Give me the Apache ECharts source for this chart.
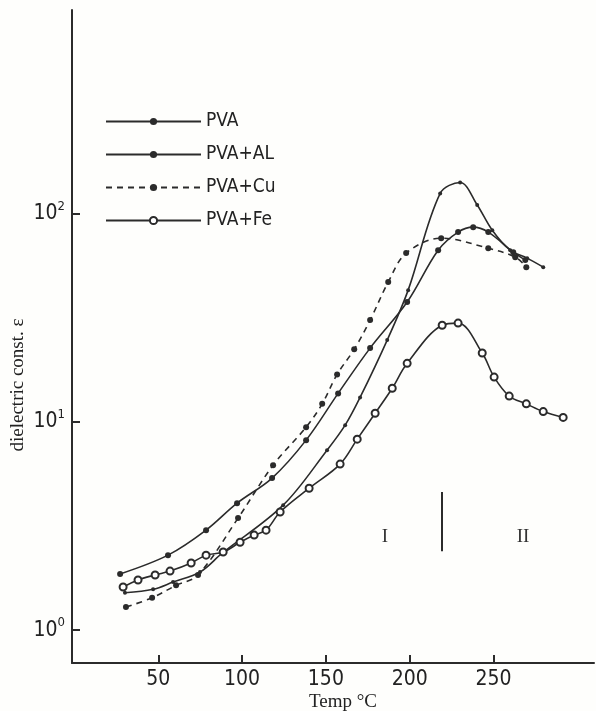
<!DOCTYPE html>
<html>
<head>
<meta charset="utf-8">
<script src="https://cdn.jsdelivr.net/npm/echarts@6/dist/echarts.min.js"></script>
<style>
  html, body { margin: 0; padding: 0; background: #fefefc; }
  #main { width: 596px; height: 711px; }
</style>
</head>
<body>
<div id="main"></div>
<script>
// values (temperature in °C, dielectric constant)
var pvaT = [27.2, 55.8, 78.5, 97.0, 117.9, 138.2, 157.3, 176.4, 198.5, 217.0, 228.9, 237.9, 246.9, 261.8, 269.0];
var pvaE = [1.86, 2.29, 3.02, 4.07, 5.37, 8.17, 13.7, 22.6, 37.6, 66.7, 81.5, 86.1, 81.5, 65.3, 59.8];

var alT = [30.1, 46.9, 58.8, 74.9, 88.1, 124.5, 150.7, 161.5, 170.4, 186.6, 199.1, 218.2, 230.1, 240.3, 249.3, 260.0, 270.1, 279.7];
var alE = [1.51, 1.57, 1.70, 1.90, 2.34, 3.98, 7.31, 9.64, 13.1, 24.7, 42.9, 125, 141, 110, 83.2, 66.7, 61.1, 55.3];

var cuT = [30.7, 46.3, 60.6, 73.7, 97.6, 118.5, 138.2, 147.8, 156.7, 166.9, 176.4, 187.2, 197.9, 218.8, 246.9, 263.0, 269.6];
var cuE = [1.29, 1.43, 1.64, 1.84, 3.45, 6.19, 9.43, 12.2, 16.9, 22.3, 30.8, 46.9, 64.6, 76.2, 68.2, 61.8, 55.3];

var feT = [29.0, 37.9, 48.1, 57.0, 69.6, 78.5, 88.7, 98.8, 107.2, 114.3, 122.7, 140.0, 158.5, 168.7, 179.4, 189.6, 198.5, 219.4, 228.9, 243.3, 250.4, 259.4, 269.6, 279.7, 291.6];
var feE = [1.61, 1.74, 1.84, 1.92, 2.10, 2.29, 2.37, 2.64, 2.86, 3.02, 3.69, 4.8, 6.27, 8.26, 11.0, 14.5, 19.1, 29.1, 29.8, 21.4, 16.4, 13.3, 12.2, 11.2, 10.5];

var xTicks = [50, 100, 150, 200, 250];
var yTicks = [1, 10, 100];
var seriesNames = ['PVA', 'PVA+AL', 'PVA+Cu', 'PVA+Fe'];

// boundary between region I and II
var boundaryT = 219.4;
var boundaryE = [2.39, 4.6];

function pairs(xs, ys) {
    return xs.map(function (x, i) { return [x, ys[i]]; });
}

var ink = '#2b2b2b';
var narrow = '"Liberation Sans Narrow", "DejaVu Sans Condensed", sans-serif';
var serif = '"Liberation Serif", "DejaVu Serif", serif';

var chart = echarts.init(document.getElementById('main'));

var option = {
    backgroundColor: '#fefefc',
    animation: false,
    grid: {
        left: 72,
        right: 2,
        top: 10,
        bottom: 48,
        outerBoundsMode: 'none'
    },
    legend: {
        data: seriesNames,
        orient: 'vertical',
        left: 100,
        top: 107,
        itemWidth: 95,
        itemHeight: 9,
        itemGap: 14,
        textStyle: { fontSize: 19, color: '#222', fontFamily: narrow }
    },
    xAxis: {
        type: 'value',
        min: -1.5,
        max: 310,
        splitLine: { show: false },
        axisLine: { onZero: false, lineStyle: { color: ink, width: 2 } },
        axisTick: { inside: true, length: 8, customValues: xTicks, lineStyle: { color: ink, width: 2 } },
        axisLabel: { customValues: xTicks, fontSize: 21, color: '#222', margin: 6, fontFamily: narrow }
    },
    yAxis: {
        type: 'log',
        logBase: 10,
        min: 0.695,
        max: 950,
        splitLine: { show: false },
        axisLine: { onZero: false, lineStyle: { color: ink, width: 2 } },
        axisTick: { inside: true, length: 8, customValues: yTicks, lineStyle: { color: ink, width: 2 } },
        axisLabel: {
            customValues: yTicks,
            margin: 7,
            formatter: function (v) {
                return '{b|10}{s|' + Math.round(Math.log10(v)) + '}';
            },
            rich: {
                b: { fontSize: 21, color: '#222', fontFamily: narrow },
                s: { fontSize: 13, color: '#222', fontFamily: narrow, padding: [0, 0, 14, 0] }
            }
        }
    },
    series: [{
        name: 'PVA',
        type: 'line',
        smooth: 0.35,
        data: pairs(pvaT, pvaE),
        symbol: 'circle',
        symbolSize: 6,
        itemStyle: { color: ink },
        lineStyle: { color: ink, width: 1.6 },
        markLine: {
            silent: true,
            symbol: 'none',
            label: { show: false },
            lineStyle: { color: ink, width: 2, type: 'solid' },
            data: [[{ coord: [boundaryT, boundaryE[0]] }, { coord: [boundaryT, boundaryE[1]] }]]
        }
    }, {
        name: 'PVA+AL',
        type: 'line',
        smooth: 0.35,
        data: pairs(alT, alE),
        symbol: 'circle',
        symbolSize: 4,
        itemStyle: { color: ink },
        lineStyle: { color: ink, width: 1.6 }
    }, {
        name: 'PVA+Cu',
        type: 'line',
        smooth: 0.35,
        data: pairs(cuT, cuE),
        symbol: 'circle',
        symbolSize: 6,
        itemStyle: { color: ink },
        lineStyle: { color: ink, width: 1.6, type: [6, 5] }
    }, {
        name: 'PVA+Fe',
        type: 'line',
        smooth: 0.35,
        data: pairs(feT, feE),
        symbol: 'emptyCircle',
        symbolSize: 7,
        itemStyle: { color: ink, borderWidth: 1.5 },
        lineStyle: { color: ink, width: 1.6 }
    }],
    graphic: [{
        type: 'text',
        x: 18,
        y: 385,
        rotation: Math.PI / 2,
        style: { text: 'dielectric const. ε', fontSize: 19, fontFamily: serif, fill: '#222', align: 'center', verticalAlign: 'middle' }
    }, {
        type: 'text',
        x: 343,
        y: 702,
        style: { text: 'Temp °C', fontSize: 19, fontFamily: serif, fill: '#222', align: 'center', verticalAlign: 'middle' }
    }, {
        type: 'text',
        x: 385,
        y: 537,
        style: { text: 'I', fontSize: 19, fontFamily: serif, fill: '#333', align: 'center', verticalAlign: 'middle' }
    }, {
        type: 'text',
        x: 523,
        y: 537,
        style: { text: 'II', fontSize: 19, fontFamily: serif, fill: '#333', align: 'center', verticalAlign: 'middle' }
    }]
};

chart.setOption(option);
</script>
</body>
</html>
